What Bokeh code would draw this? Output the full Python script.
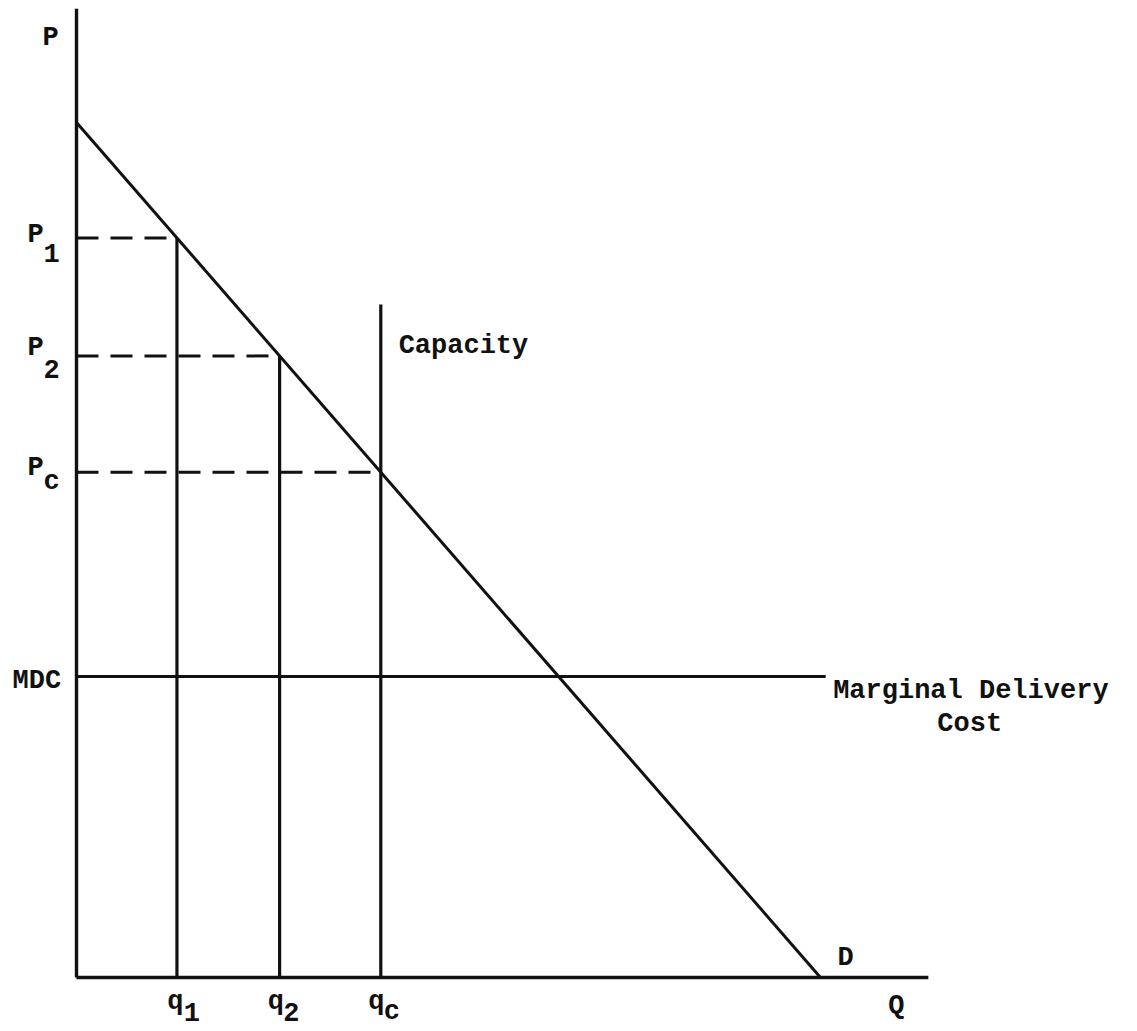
from bokeh.plotting import figure
from bokeh.models import Range1d
from bokeh.core.properties import value
from bokeh.embed import file_html
from bokeh.resources import INLINE

# ---- model values (Q units, P units) ----
demand_q = [0, 100]           # demand curve end points (Q)
demand_p = [100, 0]           # demand curve end points (P)
price_levels = [86.5, 72.7, 59.1]   # P1, P2, Pc
quantities = [13.5, 27.3, 40.9]     # q1, q2, qc
subscripts = ["1", "2", "c"]
capacity_top = 78.7
mdc = 35.2
mdc_end = 100.7
p_axis_top = 113.3
q_axis_end = 114.5

FONT = value("Liberation Mono")
FS = "27px"

p = figure(width=1137, height=1031, output_backend="svg", toolbar_location=None,
           x_range=Range1d(-10.215, 142.61), y_range=Range1d(-6.316, 114.27),
           min_border=0)
p.axis.visible = False
p.grid.visible = False
p.outline_line_color = None
p.background_fill_color = "white"

ink = "#111111"

# axes
p.line([0, 0], [0, p_axis_top], line_color=ink, line_width=3.4)
p.line([0, q_axis_end], [0, 0], line_color=ink, line_width=3.4)

# demand
p.line(demand_q, demand_p, line_color=ink, line_width=3)

# MDC
p.line([0, mdc_end], [mdc, mdc], line_color=ink, line_width=3)

# verticals
tops = [price_levels[0], price_levels[1], capacity_top]
p.segment(x0=quantities, y0=[0] * 3, x1=quantities, y1=tops, line_color=ink, line_width=3.2)

# dashed price lines
p.segment(x0=[0] * 3, y0=price_levels, x1=quantities, y1=price_levels,
          line_color=ink, line_width=3, line_dash="22 12")

def txt(xs, ys, texts, align="left"):
    p.text(x=xs, y=ys, text=texts, text_font=FONT, text_font_size=FS,
           text_font_style="bold", text_color=ink,
           text_baseline="alphabetic", text_align=align)

# P axis labels
txt([-4.57], [109.9], ["P"])
txt([-6.59] * 3, [86.8, 73.6, 59.6], ["P", "P", "P"])
txt([-4.44] * 3, [84.7, 71.2, 57.9], subscripts)
txt([-8.6], [34.7], ["MDC"])

# Q axis labels
txt([12.2, 25.7, 39.2], [-2.9, -2.9, -2.9], ["q", "q", "q"])
txt([14.4, 27.8, 41.3], [-4.0, -4.0, -4.0], subscripts)
txt([109.1], [-3.3], ["Q"])
txt([102.3], [2.3], ["D"])

# annotations
txt([43.3], [73.9], ["Capacity"])
txt([101.7], [33.5], ["Marginal Delivery"])
txt([115.7], [29.6], ["Cost"])

open("out.html", "w").write(file_html(p, INLINE))
